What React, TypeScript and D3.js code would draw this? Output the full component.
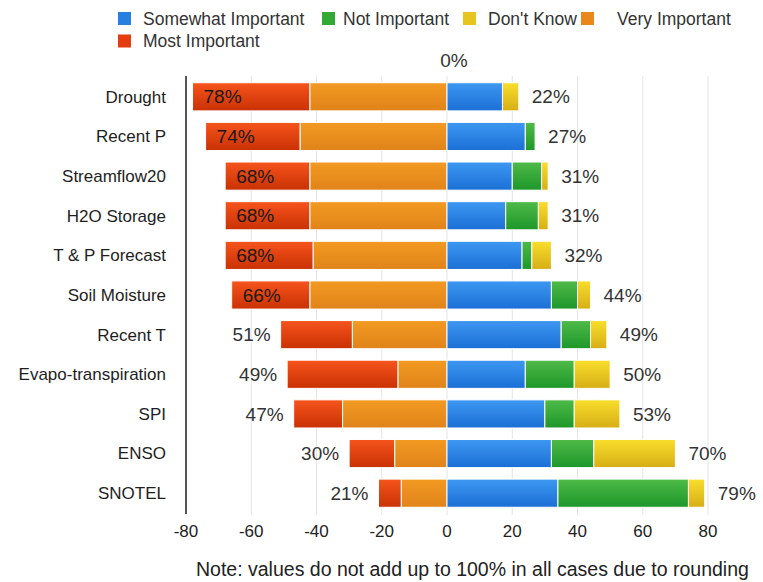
import React from "react";
import * as d3 from "d3";

// Survey categories, top to bottom
const categories = [
  "Drought",
  "Recent P",
  "Streamflow20",
  "H2O Storage",
  "T & P Forecast",
  "Soil Moisture",
  "Recent T",
  "Evapo-transpiration",
  "SPI",
  "ENSO",
  "SNOTEL",
];

// Left side (drawn as negative values)
const mostImportant = [36, 29, 26, 26, 27, 24, 22, 34, 15, 14, 7];
const veryImportant = [42, 45, 42, 42, 41, 42, 29, 15, 32, 16, 14];

// Right side
const somewhatImportant = [17, 24, 20, 18, 23, 32, 35, 24, 30, 32, 34];
const notImportant = [0, 3, 9, 10, 3, 8, 9, 15, 9, 13, 40];
const dontKnow = [5, 0, 2, 3, 6, 4, 5, 11, 14, 25, 5];

const xTicks = [-80, -60, -40, -20, 0, 20, 40, 60, 80];

const legendNames = [
  "Somewhat Important",
  "Not Important",
  "Don't Know",
  "Very Important",
  "Most Important",
];

const W = 763;
const H = 582;
const FONT = "'Liberation Sans', Arial, Helvetica, sans-serif";

const colors: Record<string, { top: string; bottom: string; legend: string }> = {
  most: { top: "#f6541c", bottom: "#c93104", legend: "#e23c10" },
  very: { top: "#f29a22", bottom: "#e0831a", legend: "#e9871b" },
  somewhat: { top: "#3d98f2", bottom: "#1b6fd5", legend: "#2580e0" },
  not: { top: "#4fba48", bottom: "#1d972a", legend: "#33a835" },
  dk: { top: "#f9de2c", bottom: "#d6ae16", legend: "#e6c520" },
};

// legend placement: square x, text x, row center y
const legendLayout = [
  { sx: 118, tx: 143, y: 18.5 },
  { sx: 322, tx: 343, y: 18.5 },
  { sx: 463, tx: 488, y: 18.5 },
  { sx: 581, tx: 617, y: 18.5 },
  { sx: 118, tx: 143, y: 41 },
];
const legendKeys = ["somewhat", "not", "dk", "very", "most"];

export default function App() {
  const x = d3.scaleLinear().domain([-80, 80]).range([186, 708]);
  const y = d3
    .scaleBand<string>()
    .domain(categories)
    .range([77, 513])
    .paddingInner(0.29)
    .paddingOuter(0.145);
  const bh = y.bandwidth();

  const rows = categories.map((c, i) => {
    const leftTotal = mostImportant[i] + veryImportant[i];
    const rightTotal = somewhatImportant[i] + notImportant[i] + dontKnow[i];
    const segs = [
      { key: "most", x0: -leftTotal, x1: -veryImportant[i] },
      { key: "very", x0: -veryImportant[i], x1: 0 },
      { key: "somewhat", x0: 0, x1: somewhatImportant[i] },
      {
        key: "not",
        x0: somewhatImportant[i],
        x1: somewhatImportant[i] + notImportant[i],
      },
      {
        key: "dk",
        x0: somewhatImportant[i] + notImportant[i],
        x1: rightTotal,
      },
    ].filter((s) => s.x1 - s.x0 > 0);
    return { c, i, leftTotal, rightTotal, segs };
  });

  return (
    <svg
      width={W}
      height={H}
      style={{ position: "absolute", left: 0, top: 0, background: "#fff" }}
      fontFamily={FONT}
    >
      <defs>
        {Object.entries(colors).map(([k, v]) => (
          <linearGradient key={k} id={`g-${k}`} x1="0" y1="0" x2="0" y2="1">
            <stop offset="0%" stopColor={v.top} />
            <stop offset="100%" stopColor={v.bottom} />
          </linearGradient>
        ))}
      </defs>

      {/* legend */}
      {legendNames.map((name, i) => {
        const L = legendLayout[i];
        return (
          <g key={name}>
            <rect
              x={L.sx}
              y={L.y - 6.5}
              width={13}
              height={13}
              fill={colors[legendKeys[i]].legend}
            />
            <text x={L.tx} y={L.y} dy="0.35em" fontSize={17.5} fill="#333">
              {name}
            </text>
          </g>
        );
      })}

      {/* vertical gridlines */}
      {xTicks.map((t) => (
        <line
          key={t}
          x1={x(t)}
          x2={x(t)}
          y1={76}
          y2={515}
          stroke="#e4e4e4"
          strokeWidth={1}
        />
      ))}

      {/* bars */}
      {rows.map((r) =>
        r.segs.map((s) => (
          <rect
            key={r.c + s.key}
            x={x(s.x0)}
            y={y(r.c)!}
            width={x(s.x1) - x(s.x0)}
            height={bh}
            fill={`url(#g-${s.key})`}
            stroke="#fff"
            strokeWidth={1}
          />
        ))
      )}

      {/* left axis line */}
      <line x1={186} x2={186} y1={76} y2={514} stroke="#555" strokeWidth={2} />

      {/* category labels */}
      {categories.map((c) => (
        <text
          key={c}
          x={166}
          y={y(c)! + bh / 2}
          dy="0.35em"
          textAnchor="end"
          fontSize={17}
          fill="#1e1e1e"
        >
          {c}
        </text>
      ))}

      {/* totals on the left */}
      {rows.map((r) => {
        const inside = r.leftTotal >= 60;
        const bx = x(-r.leftTotal);
        return (
          <text
            key={"l" + r.c}
            x={inside ? bx + 11 : bx - 10}
            y={y(r.c)! + bh / 2}
            dy="0.35em"
            textAnchor={inside ? "start" : "end"}
            fontSize={19}
            fill={inside ? "#1a1a1a" : "#333"}
          >
            {r.leftTotal}%
          </text>
        );
      })}

      {/* totals on the right */}
      {rows.map((r) => (
        <text
          key={"r" + r.c}
          x={x(r.rightTotal) + 13}
          y={y(r.c)! + bh / 2}
          dy="0.35em"
          textAnchor="start"
          fontSize={19}
          fill="#333"
        >
          {r.rightTotal}%
        </text>
      ))}

      {/* zero label above the plot */}
      <text
        x={x(0) + 7}
        y={60}
        dy="0.35em"
        textAnchor="middle"
        fontSize={19}
        fill="#333"
      >
        0%
      </text>

      {/* x tick labels */}
      {xTicks.map((t) => (
        <text
          key={"t" + t}
          x={x(t)}
          y={531}
          dy="0.35em"
          textAnchor="middle"
          fontSize={17}
          fill="#222"
        >
          {t}
        </text>
      ))}

      <text x={196} y={569} dy="0.35em" fontSize={19.5} fill="#222">
        Note: values do not add up to 100% in all cases due to rounding
      </text>
    </svg>
  );
}
